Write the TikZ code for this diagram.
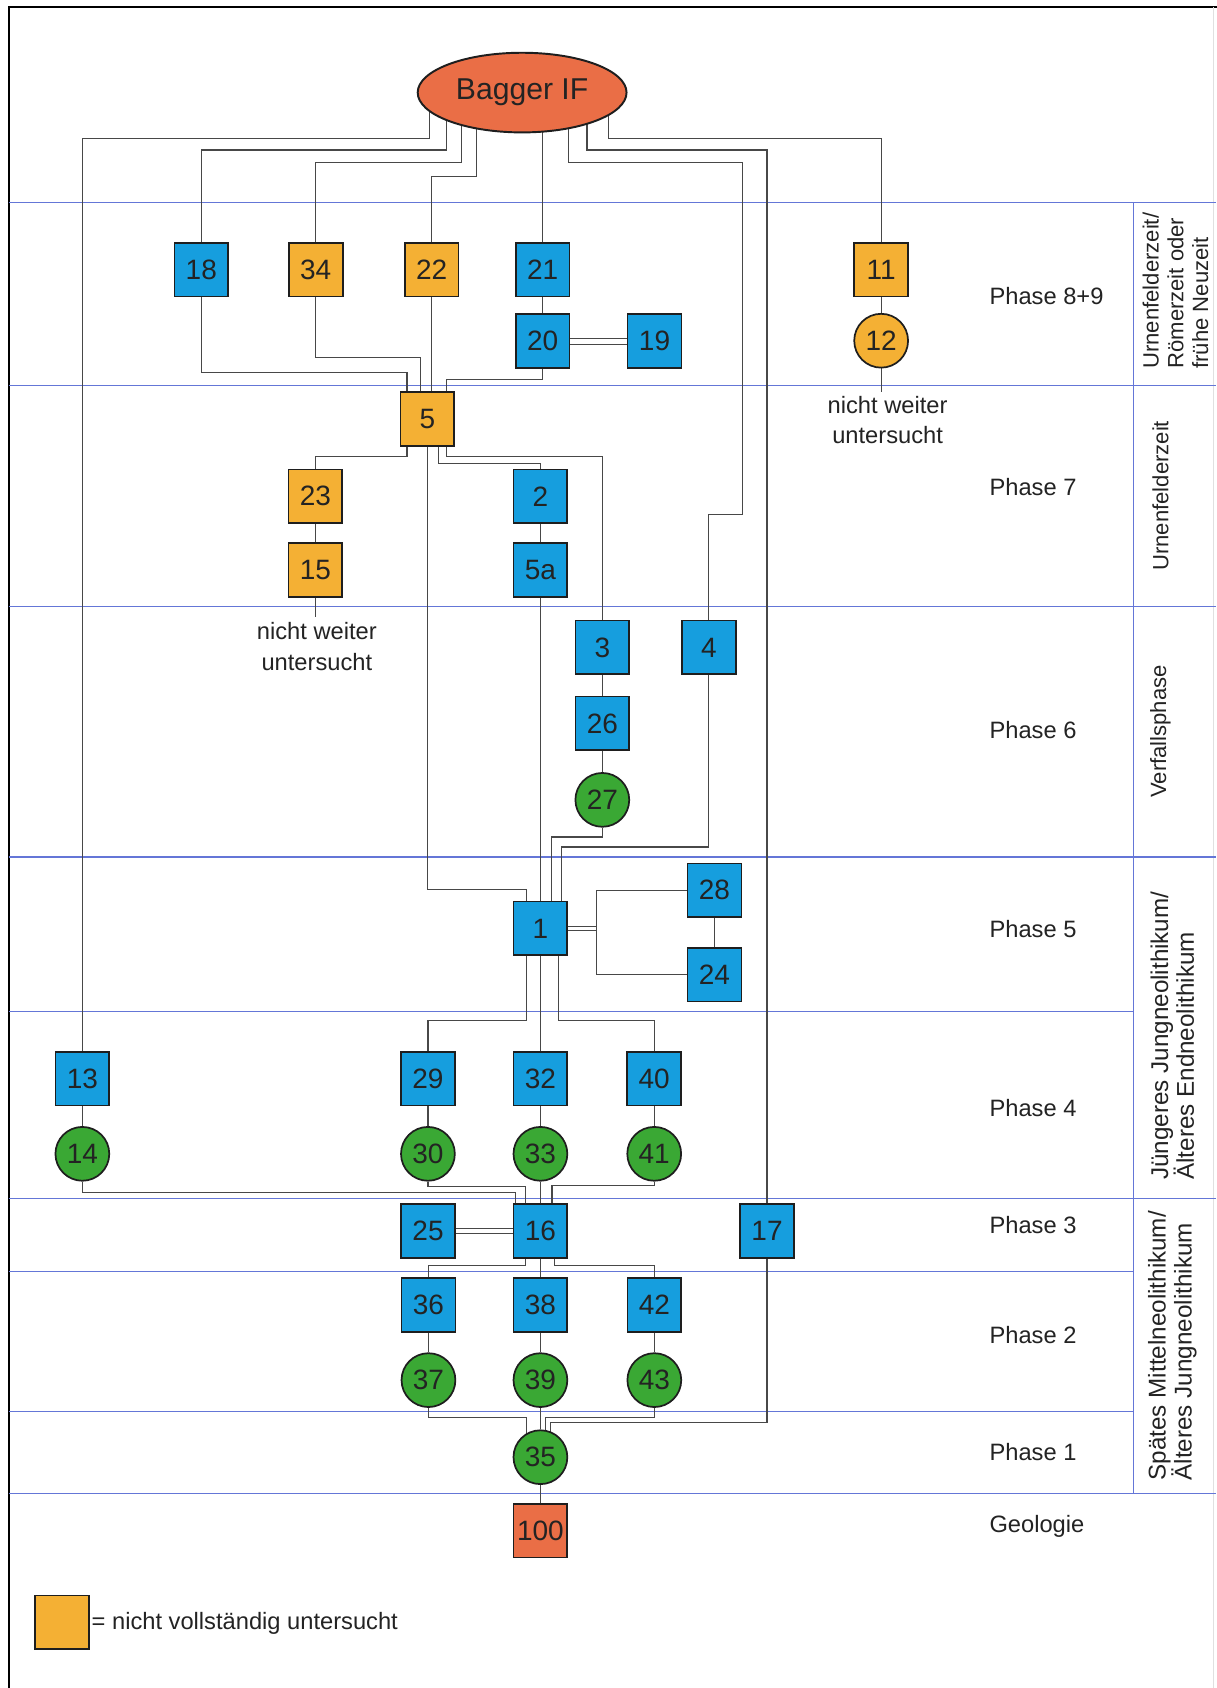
\documentclass[tikz,border=0pt]{standalone}
\usepackage{fontspec}
\setmainfont{Liberation Sans}
\usetikzlibrary{calc,backgrounds,shapes.geometric}
\definecolor{cblue}{RGB}{22,158,222}
\definecolor{corange}{RGB}{244,176,52}
\definecolor{cgreen}{RGB}{58,168,52}
\definecolor{cred}{RGB}{234,110,70}
\definecolor{cline}{RGB}{72,72,72}
\definecolor{cphase}{RGB}{100,118,215}
\definecolor{cborder}{RGB}{30,30,30}
\definecolor{ctext}{RGB}{35,35,35}
\begin{document}
\begin{tikzpicture}[x=1pt,y=-1pt,
  box/.style={draw=cborder, line width=1.6pt, minimum size=50pt, inner sep=0pt, font=\fontsize{26}{30}\selectfont, text=ctext},
  bb/.style={box, fill=cblue},
  ob/.style={box, fill=corange},
  gc/.style={box, circle, fill=cgreen},
  oc/.style={box, circle, fill=corange},
  rb/.style={box, fill=cred},
  conn/.style={draw=cline, line width=1.1pt},
  dbl/.style={draw=cline, line width=1pt, double=white},
  phaselabel/.style={anchor=base west, font=\fontsize{22}{26}\selectfont, text=ctext, inner sep=0pt},
  era/.style={rotate=90, align=left, font=\fontsize{20.5}{23}\selectfont, text=ctext, inner sep=0pt},
  erabig/.style={era, font=\fontsize{22.5}{24}\selectfont},
  note/.style={align=center, font=\fontsize{22}{28}\selectfont, text=ctext, inner sep=0pt},
  phaseline/.style={draw=cphase, line width=1.1pt}
]
\useasboundingbox (0,0) rectangle (1130,1568);

% ---------- nodes ----------
\node[ellipse, draw=cborder, line width=1.8pt, fill=cred, minimum width=194pt, minimum height=74pt, inner sep=0pt,
      font=\fontsize{28}{32}\selectfont, text=ctext] (bagger) at (485,86) {Bagger IF};

\node[bb] (n18) at (187,250.5) {18};
\node[ob] (n34) at (293.3,250.5) {34};
\node[ob] (n22) at (401,250.5) {22};
\node[bb] (n21) at (504,250.5) {21};
\node[bb] (n20) at (504,317) {20};
\node[bb] (n19) at (608,317) {19};
\node[ob] (n11) at (818.5,250.5) {11};
\node[oc] (n12) at (818.5,316.5) {12};
\coordinate (e12) at (818.5,364);
\node[note] (t12) at (824.5,390.5) {nicht weiter\\untersucht};

\node[ob] (n5) at (397,389) {5};
\node[ob] (n23) at (293,461) {23};
\node[ob] (n15) at (293,529.5) {15};
\coordinate (e15) at (293,573);
\node[note] (t15) at (294.3,600.5) {nicht weiter\\untersucht};
\node[bb] (n2) at (502,461) {2};
\node[bb] (n5a) at (502,529.3) {5a};

\node[bb] (n3) at (559.5,601.4) {3};
\node[bb] (n4) at (658.4,601.4) {4};
\coordinate (b4) at (689.8,477.6);
\node[bb] (n26) at (559.5,672) {26};
\node[gc] (n27) at (559.5,743) {27};

\node[bb] (n1) at (502,862.4) {1};
\coordinate (brk) at (553.8,862.4);
\node[bb] (n28) at (663.7,827) {28};
\node[bb] (n24) at (663.7,905.4) {24};

\node[bb] (n13) at (76.5,1002) {13};
\node[bb] (n29) at (397.5,1002) {29};
\node[bb] (n32) at (502,1002) {32};
\node[bb] (n40) at (607.7,1002) {40};
\node[gc] (n14) at (76.5,1071.8) {14};
\node[gc] (n30) at (397.5,1071.8) {30};
\node[gc] (n33) at (502,1071.8) {33};
\node[gc] (n41) at (607.7,1071.8) {41};

\node[bb] (n25) at (397.6,1143.5) {25};
\node[bb] (n16) at (502,1143.5) {16};
\node[bb] (n17) at (712.5,1143.5) {17};

\node[bb] (n36) at (398,1212.4) {36};
\node[bb] (n38) at (502,1212.4) {38};
\node[bb] (n42) at (607.8,1212.4) {42};
\node[gc] (n37) at (398,1282) {37};
\node[gc] (n39) at (502,1282) {39};
\node[gc] (n43) at (607.8,1282) {43};

\node[gc] (n35) at (502,1353.6) {35};
\node[rb] (n100) at (502,1421.8) {100};

% legend
\node[ob] (legbox) at (57.8,1507) {};
\node[anchor=west, font=\fontsize{22}{26}\selectfont, text=ctext, inner sep=0pt] (legtxt) at (85,1508) {= nicht vollständig untersucht};

% phase labels
\node[phaselabel] (p89) at (919,282.8) {Phase 8+9};
\node[phaselabel] (p7) at (919,460) {Phase 7};
\node[phaselabel] (p6) at (919,686) {Phase 6};
\node[phaselabel] (p5) at (919,871) {Phase 5};
\node[phaselabel] (p4) at (919,1037) {Phase 4};
\node[phaselabel] (p3) at (919,1146) {Phase 3};
\node[phaselabel] (p2) at (919,1248) {Phase 2};
\node[phaselabel] (p1) at (919,1357) {Phase 1};
\node[phaselabel] (pg) at (919,1423.6) {Geologie};

% era labels
\node[era] (era1) at (1092,270) {Urnenfelderzeit/\\Römerzeit oder\\frühe Neuzeit};
\node[era] (era2) at (1078,460.5) {Urnenfelderzeit};
\node[era] (era3) at (1078,679.5) {Verfallsphase};
\node[erabig] (era4) at (1089,962) {Jüngeres Jungneolithikum/\\Älteres Endneolithikum};
\node[erabig] (era5) at (1089,1250) {Spätes Mittelneolithikum/\\Älteres Jungneolithikum};

% ---------- background: frame, phase lines, connectors ----------
\begin{pgfonlayer}{background}
\fill[white] (0,0) rectangle (1130,1568);
\draw[line width=2pt, black] (8,1570) -- (8,6.5) -- (1132,6.5);
\draw[line width=0.8pt, black!12] (1127.5,6.5) -- (1127.5,1568);
\foreach \yy in {188.3,357.8,563.1,796,1113.5,1387.4}
  \draw[phaseline] (8,\yy) -- (1130,\yy);
\foreach \yy in {939.5,1180.8,1311}
  \draw[phaseline] (8,\yy) -- (1053,\yy);
\draw[phaseline] (1053,188.3) -- (1053,1387.4);

% from Bagger IF
\draw[conn] ($(bagger)+(-86.3,0)$) -- ++(0,43) -| (n13);
\draw[conn] ($(bagger)+(-70.4,0)$) -- ++(0,53.4) -| (n18);
\draw[conn] ($(bagger)+(-56.5,0)$) -- ++(0,65.2) -| (n34);
\draw[conn] ($(bagger)+(-42.7,0)$) -- ++(0,78.2) -| (n22);
\draw[conn] (bagger.center -| n21) -- (n21);
\draw[conn] ($(bagger)+(42.8,0)$) -- ++(0,65.2) -| (b4) -| (n4);
\draw[conn] ($(bagger)+(60.2,0)$) -- ++(0,53.4) -| (n17);
\draw[conn] ($(bagger)+(80,0)$) -- ++(0,42.6) -| (n11);

% phase 8+9
\draw[conn] (n18) -- ++(0,95.8) -| ($(n5)+(-19,0)$);
\draw[conn] (n34) -- ++(0,81.5) -| ($(n5)+(-6.7,0)$);
\draw[conn] (n22) -- (n22 |- n5);
\draw[conn] (n20) -- ++(0,35.5) -| ($(n5)+(17.5,0)$);
\draw[conn] (n21) -- (n20);
\draw[dbl, double distance=4.5pt] (n20) -- (n19);
\draw[conn] (n11) -- (n12);
\draw[conn] (n12) -- (e12);

% from 5
\draw[conn] ($(n5)+(-19,0)$) -- ++(0,35.4) -| (n23);
\draw[conn] ($(n5)+(10,0)$) -- ++(0,41.6) -| (n2);
\draw[conn] ($(n5)+(18,0)$) -- ++(0,34.8) -| (n3);
\draw[conn] (n5) -- ++(0,437.4) -| ($(n1)+(-12.6,0)$);
\draw[conn] (n23) -- (n15);
\draw[conn] (n15) -- (e15);
\draw[conn] (n2) -- (n5a);
\draw[conn] (n5a) -- (n1);
\draw[conn] (n3) -- (n26);
\draw[conn] (n26) -- (n27);
\draw[conn] (n27) -- ++(0,34.5) -| ($(n1)+(10,0)$);
\draw[conn] (n4) -- ++(0,185.4) -| ($(n1)+(19.5,0)$);

% phase 5
\draw[dbl, double distance=2.6pt] (n1) -- (brk);
\draw[conn] (n28) -| (brk) |- (n24);
\draw[conn] (n28) -- (n24);
\draw[conn] ($(n1)+(-12.6,0)$) -- ++(0,85.5) -| (n29);
\draw[conn] (n1) -- (n32);
\draw[conn] ($(n1)+(16.5,0)$) -- ++(0,85.5) -| (n40);

% phase 4
\draw[conn] (n13) -- (n14);
\draw[conn] (n29) -- (n30);
\draw[conn] (n32) -- (n33);
\draw[conn] (n40) -- (n41);
\draw[conn] (n14) -- ++(0,36.2) -| ($(n16)+(-23.4,0)$);
\draw[conn] (n30) -- ++(0,30) -| ($(n16)+(-13.5,0)$);
\draw[conn] (n33) -- (n16);
\draw[conn] (n41) -- ++(0,29.2) -| ($(n16)+(10.7,0)$);

% phase 3 / 2 / 1
\draw[dbl, double distance=3.5pt] (n25) -- (n16);
\draw[conn] ($(n16)+(-14,0)$) -- ++(0,32) -| (n36);
\draw[conn] (n16) -- (n38);
\draw[conn] ($(n16)+(13,0)$) -- ++(0,32) -| (n42);
\draw[conn] (n36) -- (n37);
\draw[conn] (n38) -- (n39);
\draw[conn] (n42) -- (n43);
\draw[conn] (n37) -- ++(0,34.5) -| ($(n35)+(-12.6,0)$);
\draw[conn] (n39) -- (n35);
\draw[conn] (n43) -- ++(0,34.5) -| ($(n35)+(4.5,0)$);
\draw[conn] (n17) -- ++(0,177.6) -| ($(n35)+(9,0)$);
\draw[conn] (n35) -- (n100);
\end{pgfonlayer}
\end{tikzpicture}
\end{document}
